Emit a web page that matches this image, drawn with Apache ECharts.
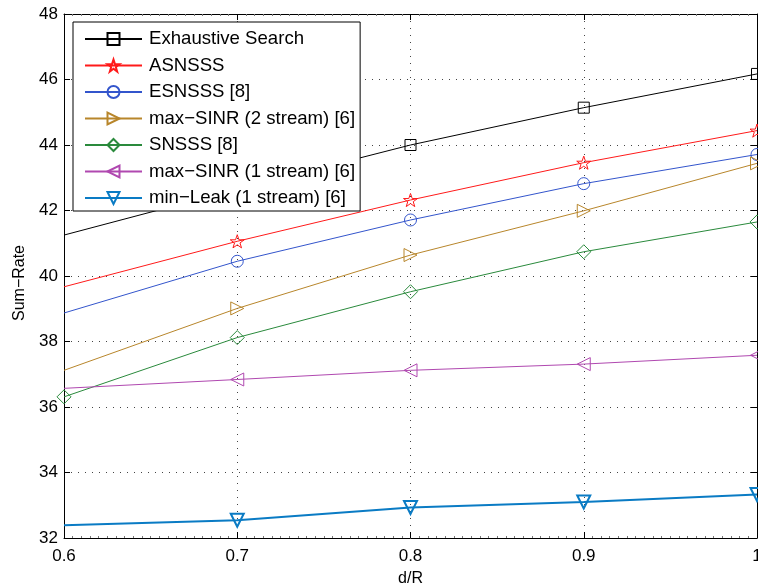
<!DOCTYPE html>
<html>
<head>
<meta charset="utf-8">
<script src="https://cdn.jsdelivr.net/npm/echarts@6/dist/echarts.min.js"></script>
<style>
html,body{margin:0;padding:0;background:#fff;}
#chart{width:758px;height:587px;}
</style>
</head>
<body>
<div id="chart"></div>
<script>
// ---- data ----
const xValues = [0.6, 0.7, 0.8, 0.9, 1.0];
const seriesNames = [
  'Exhaustive Search',
  'ASNSSS',
  'ESNSSS [8]',
  'max\u2212SINR (2 stream) [6]',
  'SNSSS [8]',
  'max\u2212SINR (1 stream) [6]',
  'min\u2212Leak (1 stream) [6]'
];
const exhaustive = [41.25, 42.65, 44.00, 45.14, 46.17];
const asnsss     = [39.67, 41.06, 42.32, 43.46, 44.44];
const esnsss     = [38.87, 40.45, 41.71, 42.82, 43.71];
const maxSinr2   = [37.12, 39.01, 40.64, 41.99, 43.44];
const snsss      = [36.31, 38.12, 39.52, 40.74, 41.65];
const maxSinr1   = [36.57, 36.84, 37.12, 37.31, 37.58];
const minLeak    = [32.39, 32.54, 32.93, 33.10, 33.33];
const yTicks = [32, 34, 36, 38, 40, 42, 44, 46, 48];

const STAR = 'path://M50,0 L61.8,35.1 L98.1,35.1 L68.8,56.7 L79.4,90.5 L50,69.6 L20.6,90.5 L31.2,56.7 L1.9,35.1 L38.2,35.1 Z';
const FONT = 'Liberation Sans, Arial, Helvetica, sans-serif';

function pts(arr){ return xValues.map((x,i)=>[x, arr[i]]); }

function mk(name, arr, color, symbol, size, opts){
  opts = opts || {};
  const showFirst = !!opts.showFirst;
  return {
    name: name,
    type: 'line',
    data: pts(arr),
    symbol: symbol,
    symbolRotate: opts.rotate || 0,
    symbolKeepAspect: true,
    symbolSize: function(v, p){ return (p.dataIndex === 0 && !showFirst) ? 0 : size; },
    showSymbol: true,
    clip: false,
    lineStyle: {color: color, width: opts.width || 1},
    itemStyle: {color: 'rgba(255,255,255,0)', borderColor: color, borderWidth: opts.bw || 1},
    emphasis: {disabled: true},
    z: 3
  };
}

const series = [
  mk(seriesNames[0], exhaustive, '#000000', 'rect', 11),
  mk(seriesNames[1], asnsss, '#ff1a1a', STAR, 14),
  mk(seriesNames[2], esnsss, '#3355cc', 'circle', 12),
  mk(seriesNames[3], maxSinr2, '#b8862b', 'triangle', 13, {rotate: -90}),
  mk(seriesNames[4], snsss, '#2a8a3c', 'diamond', 14, {showFirst: true}),
  mk(seriesNames[5], maxSinr1, '#b048b0', 'triangle', 13, {rotate: 90}),
  mk(seriesNames[6], minLeak, '#0a7bc4', 'triangle', 13, {rotate: 180, width: 2, bw: 2})
];

const chart = echarts.init(document.getElementById('chart'), null, {renderer: 'canvas'});

const gridLine = {show: true, lineStyle: {color: '#444', type: [1, 6], width: 1}};

chart.setOption({
  animation: false,
  backgroundColor: '#ffffff',
  textStyle: {fontFamily: FONT},
  grid: {left: 64, right: 1, top: 14, bottom: 49, containLabel: false, outerBoundsMode: 'none'},
  legend: {
    orient: 'vertical',
    left: 73, top: 22,
    padding: [7, 5, 3, 11],
    itemGap: 6.5,
    itemWidth: 57,
    itemHeight: 15,
    backgroundColor: '#ffffff',
    borderColor: '#000000',
    borderWidth: 1,
    borderRadius: 0,
    selectedMode: false,
    textStyle: {fontSize: 18.6, color: '#000', fontFamily: FONT, lineHeight: 20, padding: [0,0,0,2]},
    data: seriesNames.map((n, i) => i === 3 ? {name: n, lineStyle: {width: 2}} : {name: n})
  },
  xAxis: [{
    type: 'value',
    min: 0.6, max: 1.0, interval: 0.1,
    name: 'd/R', nameLocation: 'middle', nameGap: 33,
    nameTextStyle: {fontSize: 16, color: '#000', fontFamily: FONT},
    axisLine: {show: true, onZero: false, lineStyle: {color: '#000', width: 1}},
    axisTick: {show: true, inside: true, length: 6, lineStyle: {color: '#000'}},
    minorTick: {show: true, splitNumber: 20, length: 2, lineStyle: {color: '#777'}},
    axisLabel: {fontSize: 17, color: '#000', margin: 10, fontFamily: FONT,
      formatter: v => (Math.round(v*10)/10).toString()},
    splitLine: gridLine
  }, {
    type: 'value', position: 'top',
    min: 0.6, max: 1.0, interval: 0.1,
    axisLine: {show: true, onZero: false, lineStyle: {color: '#000', width: 1}},
    axisTick: {show: true, inside: true, length: 6, lineStyle: {color: '#000'}},
    minorTick: {show: true, splitNumber: 20, length: 2, lineStyle: {color: '#777'}},
    axisLabel: {show: false},
    splitLine: {show: false}
  }],
  yAxis: [{
    type: 'value',
    min: yTicks[0], max: yTicks[yTicks.length-1], interval: 2,
    name: 'Sum\u2212Rate', nameLocation: 'middle', nameGap: 36, nameRotate: 90,
    nameTextStyle: {fontSize: 16, color: '#000', fontFamily: FONT, padding: [0, 14, 0, 0]},
    axisLine: {show: true, onZero: false, lineStyle: {color: '#000', width: 1}},
    axisTick: {show: true, inside: true, length: 6, lineStyle: {color: '#000'}},
    axisLabel: {fontSize: 17, color: '#000', margin: 6, fontFamily: FONT},
    splitLine: gridLine
  }, {
    type: 'value', position: 'right',
    min: yTicks[0], max: yTicks[yTicks.length-1], interval: 2,
    axisLine: {show: true, onZero: false, lineStyle: {color: '#000', width: 1}},
    axisTick: {show: true, inside: true, length: 6, lineStyle: {color: '#000'}},
    axisLabel: {show: false},
    splitLine: {show: false}
  }],
  series: series
});
</script>
</body>
</html>
